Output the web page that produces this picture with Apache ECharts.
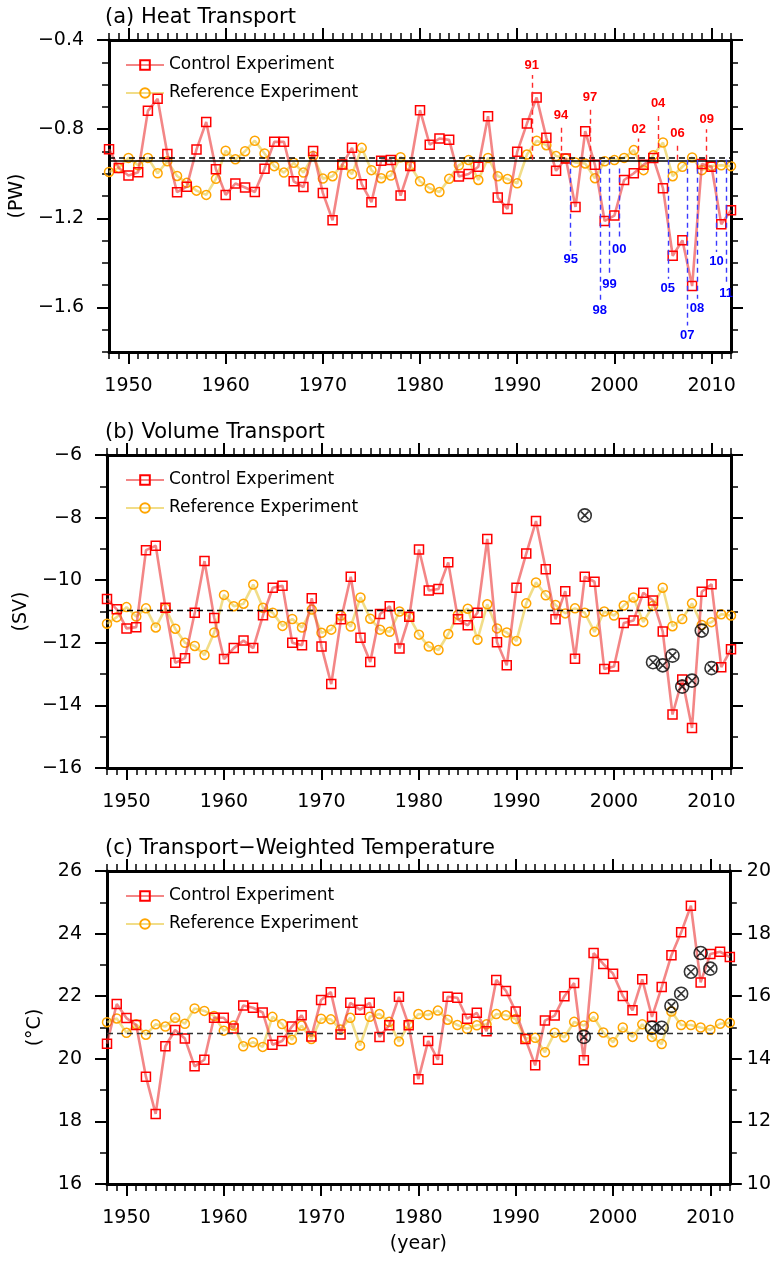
<!DOCTYPE html>
<html>
<head>
<meta charset="utf-8">
<script src="https://cdn.jsdelivr.net/npm/echarts@6/dist/echarts.min.js"></script>
<style>html,body{margin:0;padding:0;background:#fff}#chart{width:774px;height:1266px}</style>
</head>
<body>
<div id="chart"></div>
<script>
// ---------- DATA ----------
const years = [1948,1949,1950,1951,1952,1953,1954,1955,1956,1957,1958,1959,1960,1961,1962,1963,1964,1965,1966,1967,1968,1969,1970,1971,1972,1973,1974,1975,1976,1977,1978,1979,1980,1981,1982,1983,1984,1985,1986,1987,1988,1989,1990,1991,1992,1993,1994,1995,1996,1997,1998,1999,2000,2001,2002,2003,2004,2005,2006,2007,2008,2009,2010,2011,2012];

const heatControl = [-0.890,-0.974,-1.008,-0.993,-0.718,-0.664,-0.911,-1.083,-1.058,-0.891,-0.768,-0.980,-1.095,-1.044,-1.062,-1.082,-0.978,-0.857,-0.857,-1.034,-1.060,-0.898,-1.086,-1.209,-0.959,-0.884,-1.047,-1.128,-0.942,-0.938,-1.098,-0.965,-0.715,-0.870,-0.842,-0.848,-1.013,-1.001,-0.969,-0.742,-1.107,-1.158,-0.902,-0.775,-0.658,-0.839,-0.987,-0.932,-1.149,-0.809,-0.960,-1.212,-1.188,-1.028,-0.998,-0.960,-0.929,-1.065,-1.368,-1.299,-1.504,-0.956,-0.969,-1.227,-1.164];
const heatReference = [-0.992,-0.974,-0.929,-0.962,-0.929,-0.998,-0.944,-1.010,-1.041,-1.076,-1.095,-1.023,-0.897,-0.935,-0.899,-0.852,-0.909,-0.966,-0.995,-0.951,-0.995,-0.920,-1.022,-1.011,-0.959,-1.002,-0.884,-0.984,-1.020,-1.008,-0.926,-0.965,-1.034,-1.065,-1.082,-1.023,-0.962,-0.939,-1.028,-0.929,-1.011,-1.024,-1.043,-0.914,-0.852,-0.872,-0.921,-0.932,-0.950,-0.954,-1.020,-0.944,-0.939,-0.929,-0.894,-0.984,-0.917,-0.860,-1.011,-0.969,-0.927,-0.984,-0.966,-0.962,-0.966];
const heatMeanSolid = -0.940;
const heatMeanDashed = -0.932;

const heatUpLabels = ['91','94','97','02','04','06','09'];
const heatUpX      = [1991.5,1994.5,1997.5,2002.5,2004.5,2006.5,2009.5];
const heatUpStart  = [-0.937,-0.937,-0.937,-0.937,-0.925,-0.937,-0.937];
const heatUpTip    = [-0.557,-0.782,-0.701,-0.842,-0.727,-0.861,-0.801];
const heatDownLabels = ['95','98','99','00','05','07','08','10','11'];
const heatDownX      = [1995.5,1998.5,1999.5,2000.5,2005.5,2007.5,2008.5,2010.5,2011.5];
const heatDownStart  = [-0.937,-0.937,-0.937,-0.977,-0.937,-0.937,-0.937,-0.937,-0.937];
const heatDownTip    = [-1.344,-1.569,-1.456,-1.299,-1.471,-1.681,-1.561,-1.351,-1.494];

const volControl = [-10.60,-10.93,-11.54,-11.50,-9.04,-8.90,-10.88,-12.64,-12.49,-11.04,-9.39,-11.21,-12.52,-12.17,-11.93,-12.17,-11.12,-10.24,-10.18,-12.00,-12.08,-10.58,-12.12,-13.32,-11.25,-9.89,-11.84,-12.61,-11.08,-10.83,-12.18,-11.17,-9.02,-10.33,-10.28,-9.43,-11.25,-11.44,-11.04,-8.68,-11.98,-12.72,-10.24,-9.15,-8.11,-9.65,-11.25,-10.35,-12.51,-9.89,-10.05,-12.84,-12.76,-11.37,-11.29,-10.40,-10.65,-11.64,-14.29,-13.17,-14.72,-10.37,-10.13,-12.78,-12.21];
const volReference = [-11.39,-11.18,-10.86,-11.16,-10.90,-11.51,-10.90,-11.55,-12.00,-12.10,-12.39,-11.67,-10.47,-10.83,-10.75,-10.14,-10.88,-11.04,-11.46,-11.24,-11.51,-10.94,-11.68,-11.58,-11.13,-11.48,-10.55,-11.23,-11.58,-11.65,-11.00,-11.17,-11.74,-12.12,-12.23,-11.72,-11.10,-10.91,-11.90,-10.77,-11.54,-11.67,-11.94,-10.74,-10.07,-10.48,-10.79,-11.06,-10.90,-11.04,-11.65,-11.00,-11.13,-10.81,-10.55,-11.34,-10.82,-10.24,-11.47,-11.24,-10.74,-11.43,-11.34,-11.09,-11.13];
const volMean = -10.96;
const volMarkYears  = [1997,2004,2005,2006,2007,2008,2009,2010];
const volMarkValues = [-7.93,-12.62,-12.72,-12.41,-13.40,-13.21,-11.61,-12.81];

const tempControl = [20.48,21.75,21.30,21.08,19.43,18.24,20.40,20.92,20.65,19.76,19.97,21.31,21.31,20.97,21.70,21.63,21.48,20.45,20.57,21.03,21.39,20.71,21.88,22.13,20.78,21.79,21.57,21.79,20.70,21.07,21.98,21.07,19.35,20.57,19.97,21.98,21.95,21.28,21.47,20.88,22.52,22.17,21.51,20.63,19.79,21.22,21.38,22.00,22.42,19.95,23.38,23.03,22.72,22.01,21.55,22.54,21.34,22.29,23.31,24.04,24.89,22.44,23.35,23.42,23.25];
const tempReference = [21.17,21.29,20.83,21.10,20.77,21.10,21.03,21.31,21.12,21.61,21.53,21.37,20.90,21.06,20.40,20.53,20.38,21.34,21.11,20.61,21.06,20.63,21.28,21.26,20.94,21.31,20.42,21.34,21.43,21.18,20.55,21.10,21.43,21.40,21.54,21.25,21.08,20.96,21.07,21.10,21.43,21.39,21.27,20.65,20.67,20.21,20.83,20.69,21.18,21.06,21.34,20.84,20.53,21.00,20.70,21.10,20.70,20.47,21.51,21.08,21.08,21.00,20.93,21.12,21.15];
const tempMean = 20.83;
const tempMarkYears  = [1997,2004,2005,2006,2007,2008,2009,2010];
const tempMarkValues = [14.70,14.99,14.99,15.69,16.08,16.78,17.38,16.88]; // right axis

const xMajorTicks = [1950,1960,1970,1980,1990,2000,2010];
const heatTicks = [-1.6,-1.2,-0.8,-0.4];
const volTicks = [-16,-14,-12,-10,-8,-6];
const tempTicks = [16,18,20,22,24,26];
const tempRightTicks = [10,12,14,16,18,20];

const titles = ['(a) Heat Transport','(b) Volume Transport','(c) Transport\u2212Weighted Temperature'];
const yNames = ['(PW)','(SV)','(\u00B0C)'];
const seriesNames = ['Control Experiment','Reference Experiment'];

// ---------- LAYOUT ----------
const FONT = 'DejaVu Sans';
const gridTops = [40, 455, 871];
const gridHeights = [312, 313, 313];
const GL = 107, GW = 624;

const RED_LINE = 'rgba(235,60,60,0.62)';
const RED_MK = '#ff0000';
const OR_LINE = 'rgba(235,205,80,0.68)';
const OR_MK = '#ffa500';

const xAxis = [], yAxis = [];
const lineOn = {show:true, onZero:false, lineStyle:{color:'#000', width:3}};
const majTick = v => ({show:true, inside:false, length:12, customValues:v, lineStyle:{color:'#000', width:2}});
const minTick = {show:true, inside:false, length:7, lineStyle:{color:'#000', width:1.5}};
const fmtMinus = v => String(v).replace('-', '\u2212');
const lab = (v, margin) => ({show:true, customValues:v, margin:margin, fontSize:19, fontFamily:FONT, color:'#000', formatter:fmtMinus});

function addX(gi, o){ xAxis.push(Object.assign({gridIndex:gi, type:'value', min:1948, max:2012, splitLine:{show:false}}, o)); return xAxis.length-1; }
function addY(gi, o){ yAxis.push(Object.assign({gridIndex:gi, type:'value', splitLine:{show:false}}, o)); return yAxis.length-1; }

const cfg = [
  {min:-1.8, max:-0.4, ticks:heatTicks, step:0.1},
  {min:-16, max:-6, ticks:volTicks, step:1},
  {min:16, max:26, ticks:tempTicks, step:1}
];
const idx = [];
for (let g=0; g<3; g++){
  const c = cfg[g];
  const xm = addX(g, {position:'bottom', axisLine:lineOn, axisTick:majTick(xMajorTicks), axisLabel:lab(xMajorTicks,25),
    name: g===2 ? '(year)' : '', nameLocation:'middle', nameGap:51, nameTextStyle:{fontSize:19, fontFamily:FONT, color:'#000'}});
  addX(g, {position:'bottom', interval:1, axisLine:{show:false}, axisTick:minTick, axisLabel:{show:false}});
  addX(g, {position:'top', axisLine:lineOn, axisTick:majTick(xMajorTicks), axisLabel:{show:false}});
  addX(g, {position:'top', interval:1, axisLine:{show:false}, axisTick:minTick, axisLabel:{show:false}});
  const ym = addY(g, {position:'left', min:c.min, max:c.max, axisLine:lineOn, axisTick:majTick(c.ticks), axisLabel:lab(c.ticks,25),
    name:yNames[g], nameLocation:'middle', nameRotate:90, nameGap:62, nameTextStyle:{fontSize:19, fontFamily:FONT, color:'#000'}});
  addY(g, {position:'left', min:c.min, max:c.max, interval:c.step, axisLine:{show:false}, axisTick:minTick, axisLabel:{show:false}});
  let yr;
  if (g===2){
    yr = addY(g, {position:'right', min:10, max:20, axisLine:lineOn, axisTick:majTick(tempRightTicks), axisLabel:lab(tempRightTicks,17)});
    addY(g, {position:'right', min:10, max:20, interval:1, axisLine:{show:false}, axisTick:minTick, axisLabel:{show:false}});
  } else {
    yr = addY(g, {position:'right', min:c.min, max:c.max, axisLine:lineOn, axisTick:majTick(c.ticks), axisLabel:{show:false}});
    addY(g, {position:'right', min:c.min, max:c.max, interval:c.step, axisLine:{show:false}, axisTick:minTick, axisLabel:{show:false}});
  }
  idx.push({x:xm, y:ym, yr:yr});
}

const pairs = arr => years.map((yr,i)=>[yr, arr[i]]);
const XCIRCLE = 'path://M2,10 A8,8 0 1,1 18,10 A8,8 0 1,1 2,10 Z M5.4,5.4 L14.6,14.6 M14.6,5.4 L5.4,14.6';

function controlSeries(g, data){
  return {name:seriesNames[0], type:'line', xAxisIndex:idx[g].x, yAxisIndex:idx[g].y, data:pairs(data),
    symbol:'rect', symbolSize:9, z:4,
    lineStyle:{color:RED_LINE, width:2.6},
    itemStyle:{color:'rgba(255,255,255,0)', borderColor:RED_MK, borderWidth:1.5}};
}
function refSeries(g, data, markData){
  return {name:seriesNames[1], type:'line', xAxisIndex:idx[g].x, yAxisIndex:idx[g].y, data:pairs(data),
    symbol:'circle', symbolSize:9, z:3,
    lineStyle:{color:OR_LINE, width:2.6},
    itemStyle:{color:'rgba(255,255,255,0)', borderColor:OR_MK, borderWidth:1.5},
    markLine:{silent:true, symbol:['none','none'], label:{show:false}, data:markData}};
}
function labelSeries(g, names, xs, starts, tips, color, lineColor){
  return {name:'labels'+color, type:'line', xAxisIndex:idx[g].x, yAxisIndex:idx[g].y, data:[], z:5,
    markLine:{silent:true, symbol:['none','none'],
      lineStyle:{color:lineColor, type:[5,4], width:1.4},
      label:{show:true, position:'end', formatter:'{b}', color:color, fontWeight:'bold', fontSize:13, fontFamily:'Liberation Sans', distance:3},
      data: names.map((n,i)=>[{name:n, coord:[xs[i], starts[i]]}, {coord:[xs[i], tips[i]]}])}};
}
function markSeries(g, yi, xs, vs){
  return {name:'marks', type:'scatter', xAxisIndex:idx[g].x, yAxisIndex:yi, data:xs.map((x,i)=>[x, vs[i]]),
    symbol:XCIRCLE, symbolSize:13, z:6,
    itemStyle:{color:'rgba(255,255,255,0)', borderColor:'#000', borderWidth:1.6}};
}

const series = [
  refSeries(0, heatReference, [
    {yAxis:heatMeanSolid, lineStyle:{color:'#000', type:'solid', width:1.6}},
    {yAxis:heatMeanDashed, lineStyle:{color:'#000', type:[6,4], width:1.6}}]),
  controlSeries(0, heatControl),
  labelSeries(0, heatUpLabels, heatUpX, heatUpStart, heatUpTip, '#ff0000', '#ff2a2a'),
  labelSeries(0, heatDownLabels, heatDownX, heatDownStart, heatDownTip, '#0000ff', '#3a3aff'),
  refSeries(1, volReference, [{yAxis:volMean, lineStyle:{color:'#000', type:[6,4], width:1.4}}]),
  controlSeries(1, volControl),
  markSeries(1, idx[1].y, volMarkYears, volMarkValues),
  refSeries(2, tempReference, [{yAxis:tempMean, lineStyle:{color:'#333', type:[6,4], width:1.4}}]),
  controlSeries(2, tempControl),
  markSeries(2, idx[2].yr, tempMarkYears, tempMarkValues)
];

const option = {
  animation:false,
  backgroundColor:'#fff',
  textStyle:{fontFamily:FONT},
  title: titles.map((t,g)=>({text:t, left:GL-2, top:gridTops[g]-33, padding:0,
    textStyle:{fontSize:21, fontWeight:'normal', fontFamily:FONT, color:'#000'}})),
  legend: gridTops.map(t=>({data:seriesNames, orient:'vertical', left:125, top:t+16, padding:0, itemWidth:38, itemHeight:12, itemGap:10,
    selectedMode:false, textStyle:{fontSize:17, lineHeight:18, fontFamily:FONT, color:'#000'}})),
  grid: gridTops.map((t,g)=>({left:GL, top:t, width:GW, height:gridHeights[g]})),
  xAxis, yAxis, series
};
const chart = echarts.init(document.getElementById('chart'));
chart.setOption(option);
</script>
</body>
</html>
